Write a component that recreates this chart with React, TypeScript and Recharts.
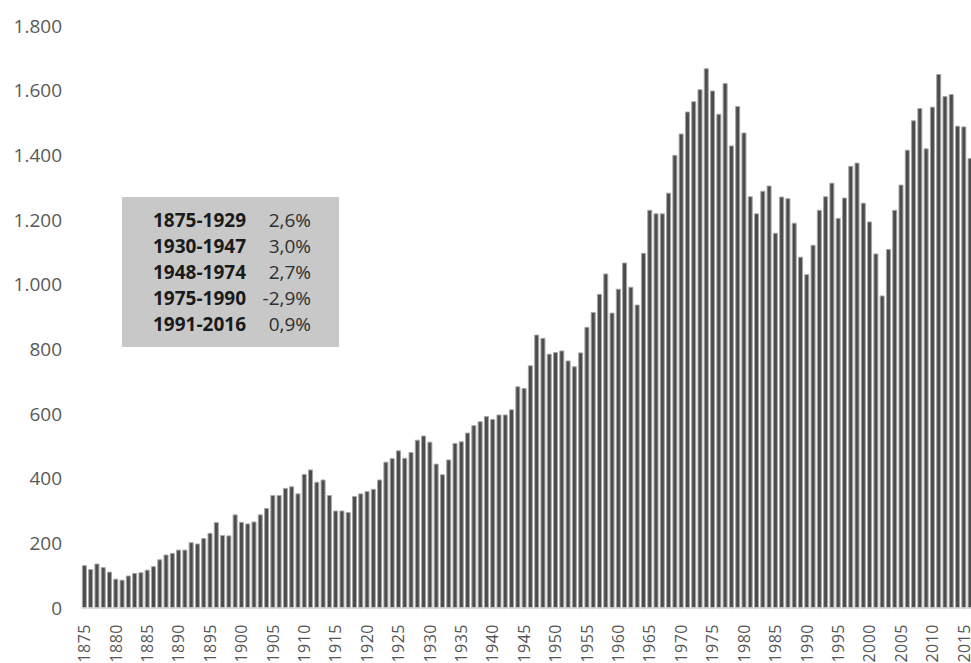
import { BarChart, Bar, XAxis, YAxis } from "recharts";

// yearly values, split by the periods in the box
const values1875to1929 = [
  131, 119, 136, 125, 111, 89, 86, 99, 107, 109,
  117, 128, 149, 164, 169, 179, 179, 202, 198, 215,
  231, 264, 224, 223, 288, 265, 260, 266, 288, 308,
  348, 348, 370, 375, 353, 413, 427, 389, 396, 348,
  300, 300, 295, 345, 353, 360, 367, 396, 451, 462,
  486, 463, 481, 519, 532,
];
const values1930to1947 = [
  513, 445, 412, 458, 509, 514, 541, 564, 576, 592,
  583, 597, 597, 613, 684, 679, 749, 844,
];
const values1948to1974 = [
  834, 785, 790, 795, 764, 746, 789, 868, 914, 970,
  1033, 912, 986, 1067, 992, 937, 1097, 1230, 1219, 1219,
  1283, 1400, 1466, 1534, 1566, 1603, 1668,
];
const values1975to1990 = [
  1599, 1527, 1622, 1429, 1551, 1469, 1272, 1219, 1289, 1305,
  1159, 1271, 1266, 1190, 1085, 1031,
];
const values1991to2016 = [
  1122, 1230, 1272, 1314, 1205, 1268, 1366, 1376, 1252, 1194,
  1095, 965, 1109, 1230, 1308, 1416, 1507, 1545, 1420, 1549,
  1650, 1582, 1588, 1490, 1488, 1390,
];

const firstYear = 1875;
const yTicks = [0, 200, 400, 600, 800, 1000, 1200, 1400, 1600, 1800];

const periods = ["1875-1929", "1930-1947", "1948-1974", "1975-1990", "1991-2016"];
const rates = ["2,6%", "3,0%", "2,7%", "-2,9%", "0,9%"];

const allValues = [
  ...values1875to1929,
  ...values1930to1947,
  ...values1948to1974,
  ...values1975to1990,
  ...values1991to2016,
];
const data = allValues.map((v, i) => ({ year: String(firstYear + i), value: v }));

const FONT = "'Open Sans', sans-serif";

const fmt = (v: number) => String(v).replace(/\B(?=(\d{3})+(?!\d))/g, ".");

function YearTick({ x, y, payload }: any) {
  const tx = x + 6;
  const ty = y + 14;
  return (
    <text
      x={tx}
      y={ty}
      transform={`rotate(-90, ${tx}, ${ty})`}
      textAnchor="end"
      fill="#555"
      fontSize={16}
      letterSpacing={0.5}
      fontFamily={FONT}
    >
      {payload.value}
    </text>
  );
}

export default function App() {
  return (
    <div
      style={{
        position: "fixed",
        left: 0,
        top: 0,
        width: 971,
        height: 663,
        overflow: "hidden",
        background: "#fff",
      }}
    >
      <BarChart
        width={980}
        height={663}
        data={data}
        margin={{ top: 26, right: 7, left: 0, bottom: 0 }}
        barCategoryGap="22%"
      >
        <XAxis
          dataKey="year"
          interval={4}
          height={55}
          tick={<YearTick />}
          tickLine={false}
          tickSize={0}
          axisLine={{ stroke: "#d9d9d9", strokeWidth: 1.5 }}
        />
        <YAxis
          width={81}
          domain={[0, 1800]}
          ticks={yTicks}
          tickFormatter={fmt}
          axisLine={false}
          tickLine={false}
          tickSize={0}
          tickMargin={19}
          tick={{ fill: "#595959", fontSize: 19, fontFamily: FONT }}
        />
        <Bar
          dataKey="value"
          fill="#4c4c4c"
          stroke="#a6a6a6"
          strokeWidth={1}
          isAnimationActive={false}
        />
      </BarChart>

      <div
        style={{
          position: "absolute",
          left: 122,
          top: 197,
          width: 217,
          height: 150,
          background: "#c8c8c8",
          boxSizing: "border-box",
          paddingTop: 10,
          paddingLeft: 31,
          fontFamily: FONT,
          fontSize: 19,
        }}
      >
        {periods.map((p, i) => (
          <div key={p} style={{ display: "flex", width: 158, height: 26, lineHeight: "26px" }}>
            <span style={{ fontWeight: 700, color: "#1a1a1a" }}>{p}</span>
            <span style={{ marginLeft: "auto", color: "#2e2e2e" }}>{rates[i]}</span>
          </div>
        ))}
      </div>
    </div>
  );
}
